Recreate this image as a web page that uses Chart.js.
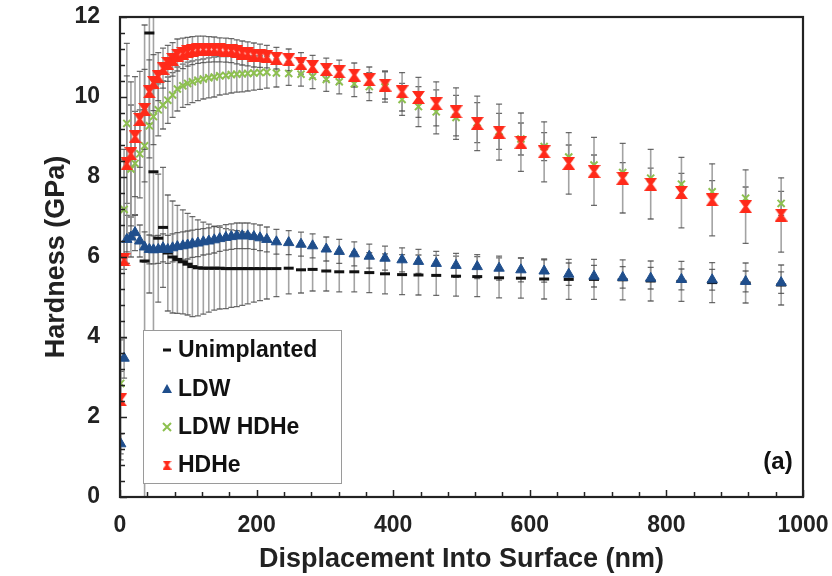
<!DOCTYPE html>
<html>
<head>
<meta charset="utf-8">
<script src="https://cdn.jsdelivr.net/npm/chart.js@4.4.0/dist/chart.umd.min.js"></script>
<style>
  html, body { margin: 0; padding: 0; background: #fff; }
  #wrap { width: 832px; height: 576px; }
</style>
</head>
<body>
<div id="wrap"><canvas id="hardChart" width="832" height="576"></canvas></div>
<script>
// profundidad de indentacion (nm)
const depth = [1,6,10,16,22,29,36,43,49,56, 63,70,77,84,92,99,106,114,122,130,
  138,146,155,163,171,179,187,196,205,215, 229,247,265,282,302,321,343,365,388,413,
  437,463,492,523,555,587,621,657,694,736, 777,822,867,916,968];

// dureza (GPa) y desviacion de cada muestra
const unimplanted = [null,null,null,null,null,null,5.90,11.60,8.13,6.47,
  6.74,6.10,6.00,5.94,5.88,5.82,5.76,5.73,5.72,5.72,
  5.72,5.72,5.71,5.71,5.71,5.71,5.71,5.71,5.71,5.71,
  5.71,5.72,5.68,5.69,5.65,5.63,5.63,5.61,5.58,5.56,
  5.55,5.54,5.52,5.51,5.48,5.47,5.45,5.44,5.44,5.43,
  5.40,5.39,5.36,5.35,5.30];
const unimplantedErr = [null,null,null,null,null,null,5.9,6.5,5.0,1.6,
  1.5,1.45,1.4,1.35,1.3,1.27,1.25,1.2,1.15,1.1,
  1.05,1.02,1.0,0.97,0.95,0.92,0.88,0.84,0.8,0.76,
  0.7,0.64,0.58,0.54,0.5,0.5,0.5,0.5,0.5,0.5,
  0.5,0.5,0.5,0.5,0.5,0.5,0.5,0.5,0.5,0.5,
  0.5,0.5,0.5,0.5,0.5];

const ldw = [1.33,3.47,6.44,6.50,6.61,6.40,6.25,6.19,6.18,6.19,
  6.23,6.19,6.23,6.26,6.28,6.30,6.33,6.35,6.38,6.40,
  6.43,6.46,6.49,6.51,6.53,6.53,6.53,6.51,6.48,6.44,
  6.38,6.36,6.32,6.28,6.20,6.14,6.08,6.02,5.97,5.93,
  5.89,5.84,5.79,5.76,5.72,5.68,5.65,5.57,5.52,5.49,
  5.47,5.44,5.43,5.39,5.36];
const ldwErr = [0.25,0.5,0.6,0.5,0.45,0.4,0.38,0.36,0.35,0.35,
  0.35,0.35,0.35,0.35,0.35,0.35,0.34,0.34,0.33,0.33,
  0.33,0.32,0.32,0.32,0.32,0.32,0.32,0.32,0.32,0.31,
  0.31,0.3,0.3,0.3,0.3,0.3,0.3,0.3,0.3,0.3,
  0.3,0.3,0.3,0.3,0.3,0.3,0.28,0.28,0.27,0.27,
  0.27,0.26,0.26,0.26,0.27];

const ldwHdhe = [2.84,7.19,9.34,8.20,8.34,8.58,8.78,9.28,9.51,9.68,
  9.80,9.92,10.05,10.20,10.28,10.34,10.38,10.42,10.45,10.48,
  10.50,10.53,10.54,10.56,10.57,10.58,10.59,10.60,10.61,10.62,
  10.60,10.59,10.57,10.51,10.44,10.38,10.33,10.26,10.25,9.94,
  9.76,9.63,9.49,9.36,9.14,8.95,8.76,8.50,8.30,8.11,
  7.97,7.82,7.63,7.47,7.34];
const ldwHdheErr = [0.3,1.5,2.0,1.6,1.3,1.1,0.9,0.8,0.7,0.65,
  0.6,0.58,0.56,0.55,0.54,0.53,0.52,0.51,0.5,0.5,
  0.5,0.48,0.47,0.46,0.45,0.45,0.44,0.43,0.42,0.4,
  0.35,0.3,0.3,0.3,0.3,0.3,0.32,0.35,0.38,0.4,
  0.5,0.55,0.55,0.5,0.45,0.4,0.35,0.3,0.25,0.25,
  0.25,0.27,0.28,0.28,0.3];

const hdhe = [2.43,5.93,8.33,8.58,9.01,9.44,9.69,10.13,10.36,10.51,
  10.72,10.84,10.94,11.05,11.09,11.13,11.16,11.18,11.19,11.19,
  11.19,11.18,11.17,11.16,11.13,11.10,11.08,11.05,11.03,11.01,
  10.97,10.93,10.84,10.76,10.69,10.63,10.55,10.43,10.30,10.13,
  9.99,9.83,9.63,9.34,9.12,8.87,8.63,8.34,8.14,7.97,
  7.82,7.61,7.43,7.26,7.05];
const hdheErr = [1.5,2.5,2.2,1.8,1.5,1.2,1.0,0.8,0.7,0.6,
  0.5,0.45,0.42,0.4,0.38,0.36,0.35,0.34,0.33,0.32,
  0.31,0.3,0.3,0.3,0.3,0.3,0.3,0.3,0.29,0.28,
  0.27,0.27,0.27,0.28,0.28,0.29,0.3,0.32,0.35,0.48,
  0.5,0.55,0.6,0.68,0.7,0.73,0.75,0.77,0.85,0.87,
  0.87,0.88,0.9,0.92,0.93];

const xTicks = [0, 200, 400, 600, 800, 1000];
const yTicks = [0, 2, 4, 6, 8, 10, 12];

const FONT = "'Liberation Sans', Arial, sans-serif";

// marcador rojo tipo reloj de arena
function hourglass(size, color) {
  const c = document.createElement('canvas');
  c.width = size; c.height = size;
  const g = c.getContext('2d');
  const w = size * 0.14;
  g.fillStyle = color;
  g.beginPath();
  g.moveTo(0, 0); g.lineTo(size, 0); g.lineTo(size / 2 + w, size / 2); g.lineTo(size, size);
  g.lineTo(0, size); g.lineTo(size / 2 - w, size / 2); g.closePath();
  g.fill();
  return c;
}
const redMark = hourglass(13, '#FF2A1A');
const redMarkSmall = hourglass(9, '#FF2A1A');

function toPoints(vals) {
  return depth.map((d, i) => ({ x: d, y: vals[i] }));
}

const series = [
  { label: 'Unimplanted', vals: unimplanted, err: unimplantedErr },
  { label: 'LDW', vals: ldw, err: ldwErr },
  { label: 'LDW HDHe', vals: ldwHdhe, err: ldwHdheErr },
  { label: 'HDHe', vals: hdhe, err: hdheErr }
];

// barras de error (debajo de los marcadores)
const errorBars = {
  id: 'errorBars',
  beforeDatasetsDraw(chart) {
    const { ctx, chartArea: a, scales: { x, y } } = chart;
    ctx.save();
    ctx.beginPath();
    ctx.rect(a.left, a.top, a.right - a.left, a.bottom - a.top);
    ctx.clip();
    series.forEach(s => {
      s.vals.forEach((v, i) => {
        const e = s.err[i];
        if (v == null || e == null) return;
        const px = x.getPixelForValue(depth[i]);
        const top = y.getPixelForValue(v + e);
        const bot = y.getPixelForValue(v - e);
        ctx.strokeStyle = 'rgba(140,140,140,0.8)';
        ctx.lineWidth = 1.6;
        ctx.beginPath();
        ctx.moveTo(px, top); ctx.lineTo(px, bot);
        ctx.stroke();
        ctx.strokeStyle = 'rgba(70,70,70,0.8)';
        ctx.lineWidth = 1.3;
        ctx.beginPath();
        ctx.moveTo(px - 3, top); ctx.lineTo(px + 3, top);
        ctx.moveTo(px - 3, bot); ctx.lineTo(px + 3, bot);
        ctx.stroke();
      });
    });
    ctx.restore();
  }
};

// marco, marcas internas, leyenda y etiqueta (a)
const frame = {
  id: 'frame',
  afterDraw(chart) {
    const { ctx, chartArea: a, scales: { x, y } } = chart;
    ctx.save();
    ctx.strokeStyle = '#222';
    ctx.lineWidth = 1.5;
    for (let v = 0; v <= 12.001; v += 0.4) {
      const py = Math.round(y.getPixelForValue(v)) + 0.5;
      const len = Math.abs(v / 2 - Math.round(v / 2)) < 0.01 ? 7 : 5;
      ctx.beginPath(); ctx.moveTo(a.left, py); ctx.lineTo(a.left + len, py); ctx.stroke();
    }
    for (let v = 0; v <= 1000; v += 40) {
      const px = Math.round(x.getPixelForValue(v)) + 0.5;
      const len = v % 200 === 0 ? 7 : 5;
      ctx.beginPath(); ctx.moveTo(px, a.bottom); ctx.lineTo(px, a.bottom - len); ctx.stroke();
    }
    ctx.lineWidth = 2.2;
    ctx.strokeRect(a.left, a.top, a.right - a.left, a.bottom - a.top);

    // leyenda
    ctx.fillStyle = '#fff';
    ctx.fillRect(143, 330, 198, 153);
    ctx.strokeStyle = '#9a9a9a';
    ctx.lineWidth = 1;
    ctx.strokeRect(143.5, 330.5, 198, 153);
    const rows = [350, 389, 427, 465];
    const mx = 167;
    // guion negro
    ctx.strokeStyle = '#111'; ctx.lineWidth = 3;
    ctx.beginPath(); ctx.moveTo(mx - 4, rows[0]); ctx.lineTo(mx + 4, rows[0]); ctx.stroke();
    // triangulo azul
    ctx.fillStyle = '#1F4E8C';
    ctx.beginPath(); ctx.moveTo(mx, rows[1] - 5); ctx.lineTo(mx + 5, rows[1] + 4); ctx.lineTo(mx - 5, rows[1] + 4); ctx.closePath(); ctx.fill();
    // cruz verde
    ctx.strokeStyle = '#8DC04F'; ctx.lineWidth = 2;
    ctx.beginPath();
    ctx.moveTo(mx - 4, rows[2] - 4); ctx.lineTo(mx + 4, rows[2] + 4);
    ctx.moveTo(mx + 4, rows[2] - 4); ctx.lineTo(mx - 4, rows[2] + 4);
    ctx.stroke();
    ctx.drawImage(redMarkSmall, mx - 4.5, rows[3] - 4.5);

    ctx.fillStyle = '#111';
    ctx.font = 'bold 23px ' + FONT;
    ctx.textAlign = 'left';
    ctx.textBaseline = 'middle';
    series.forEach((s, i) => ctx.fillText(s.label, 178, rows[i] + 1));

    ctx.font = 'bold 24px ' + FONT;
    ctx.textAlign = 'center';
    ctx.fillText('(a)', 778, 462);
    ctx.restore();
  }
};

const hardnessData = {
  datasets: [
    {
      label: 'HDHe', data: toPoints(hdhe), order: 0,
      pointStyle: redMark, pointRadius: 6,
      backgroundColor: '#FF2A1A', borderColor: '#FF2A1A'
    },
    {
      label: 'LDW HDHe', data: toPoints(ldwHdhe), order: 1,
      pointStyle: 'crossRot', pointRadius: 5, pointBorderWidth: 2,
      backgroundColor: '#8DC04F', borderColor: '#8DC04F'
    },
    {
      label: 'LDW', data: toPoints(ldw), order: 2,
      pointStyle: 'triangle', pointRadius: 6, pointBorderWidth: 1,
      backgroundColor: '#1F4E8C', borderColor: '#1F4E8C'
    },
    {
      label: 'Unimplanted', data: toPoints(unimplanted), order: 3,
      pointStyle: 'line', pointRadius: 5, pointBorderWidth: 3,
      backgroundColor: '#111', borderColor: '#111'
    }
  ]
};

const tickFont = { family: FONT, size: 23, weight: 'bold' };
const titleFont = { family: FONT, size: 27, weight: 'bold' };

const hardnessConfig = {
  type: 'scatter',
  data: hardnessData,
  options: {
    responsive: false,
    animation: false,
    showLine: false,
    layout: { padding: { top: 17, right: 29, left: 0, bottom: 0 } },
    plugins: { legend: { display: false }, tooltip: { enabled: false } },
    scales: {
      x: {
        type: 'linear', min: 0, max: 1000,
        afterFit: s => { s.height = 79; s.paddingLeft = 0; s.paddingRight = 0; },
        afterBuildTicks: s => { s.ticks = xTicks.map(v => ({ value: v })); },
        grid: { display: false, drawTicks: false },
        border: { display: false },
        ticks: { font: tickFont, color: '#222', padding: 15, autoSkip: false, maxRotation: 0,
          callback: v => String(v) },
        title: {
          display: true, text: 'Displacement Into Surface (nm)', font: titleFont,
          color: '#222', padding: { top: 0, bottom: 0 }
        }
      },
      y: {
        type: 'linear', min: 0, max: 12,
        afterFit: s => { s.width = 120; s.paddingTop = 0; s.paddingBottom = 0; },
        afterBuildTicks: s => { s.ticks = yTicks.map(v => ({ value: v })); },
        grid: { display: false, drawTicks: false },
        border: { display: false },
        ticks: { font: tickFont, color: '#222', padding: 20, callback: v => String(v) },
        title: {
          display: true, text: 'Hardness (GPa)', font: titleFont,
          color: '#222', padding: { top: 40, bottom: 0 }
        }
      }
    }
  },
  plugins: [errorBars, frame]
};

const hardnessCtx = document.getElementById('hardChart').getContext('2d');
new Chart(hardnessCtx, hardnessConfig);
</script>
</body>
</html>
